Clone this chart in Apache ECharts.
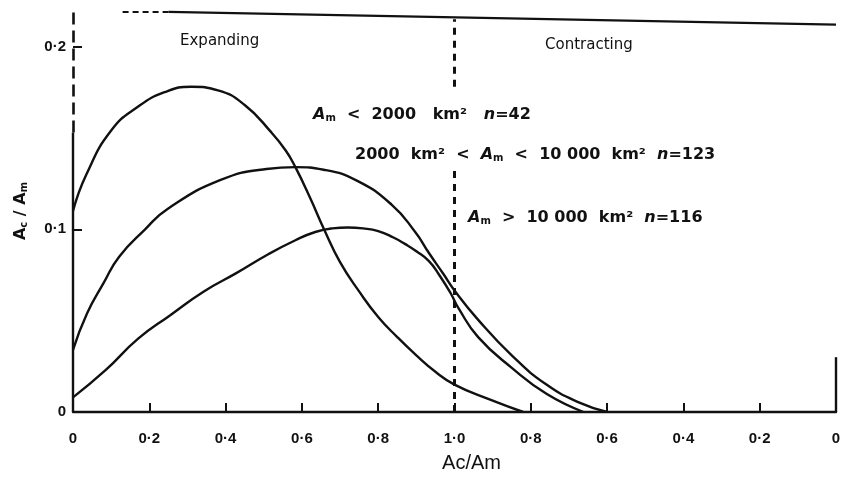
<!DOCTYPE html>
<html>
<head>
<meta charset="utf-8">
<script src="https://cdn.jsdelivr.net/npm/echarts@6.0.0/dist/echarts.min.js"></script>
<style>
html, body { margin: 0; background: #fff; }
#chart { width: 844px; height: 478px; }
</style>
</head>
<body>
<div id="chart"></div>
<script>
// x 轴：0 → 1 为扩张段，1 → 0 为收缩段（内部用 0..2 表示）
const xTicks = [0, 0.2, 0.4, 0.6, 0.8, 1, 1.2, 1.4, 1.6, 1.8, 2]
const yTickLabels = [0, 0.1, 0.2]

// Am < 2000 km², n = 42
const smallX = [0, 0.035, 0.10, 0.17, 0.24, 0.31, 0.38, 0.45, 0.52, 0.558, 0.583, 0.622, 0.658, 0.70, 0.75, 0.80, 0.85, 0.90, 0.95, 1.0, 1.09, 1.18]
const smallY = [0.110, 0.130, 0.154, 0.167, 0.175, 0.178, 0.176, 0.168, 0.153, 0.143, 0.134, 0.117, 0.100, 0.082, 0.066, 0.052, 0.041, 0.031, 0.022, 0.015, 0.007, 0.0]

// 2000 km² < Am < 10 000 km², n = 123
const midX = [0, 0.037, 0.080, 0.121, 0.189, 0.247, 0.387, 0.507, 0.583, 0.657, 0.744, 0.835, 0.897, 0.933, 0.971, 1.0, 1.061, 1.15, 1.241, 1.329, 1.40]
const midY = [0.034, 0.054, 0.0705, 0.085, 0.100, 0.111, 0.127, 0.133, 0.134, 0.1326, 0.1266, 0.1135, 0.0985, 0.087, 0.0755, 0.0665, 0.0507, 0.031, 0.015, 0.005, 0.0]

// Am > 10 000 km², n = 116
const largeX = [0, 0.086, 0.170, 0.255, 0.343, 0.428, 0.513, 0.583, 0.635, 0.68, 0.72, 0.76, 0.80, 0.84, 0.87, 0.90, 0.933, 0.96, 0.99, 1.01, 1.062, 1.151, 1.242, 1.338]
const largeY = [0.008, 0.023, 0.040, 0.053, 0.066, 0.076, 0.0865, 0.094, 0.0985, 0.1005, 0.101, 0.1005, 0.099, 0.0955, 0.092, 0.088, 0.0826, 0.075, 0.065, 0.057, 0.041, 0.024, 0.0098, 0.0]

const zip = (xs, ys) => xs.map((x, i) => [x, ys[i]])
const dot = v => String(v).replace('.', '·')

const ink = '#111'
const font = '"Liberation Sans", "DejaVu Sans", sans-serif'
const noteFont = '"DejaVu Sans", sans-serif'

const chart = echarts.init(document.getElementById('chart'))

const curve = (name, data) => ({
  name,
  type: 'line',
  data,
  smooth: 0.5,
  showSymbol: false,
  silent: true,
  lineStyle: { color: ink, width: 2.4 }
})

const rich = {
  i: { fontFamily: noteFont, fontSize: 16, fontWeight: 'bold', fontStyle: 'italic', color: ink },
  s: { fontFamily: noteFont, fontSize: 10, fontWeight: 'bold', color: ink, padding: [7, 0, 0, 0] },
  t: { fontFamily: noteFont, fontSize: 16, fontWeight: 'bold', color: ink }
}

const note = (x, y, text) => ({
  type: 'text',
  x, y,
  style: { text, rich, verticalAlign: 'middle', fill: ink }
})

const dashed = { color: ink, width: 3, type: [7, 6] }

const option = {
  animation: false,
  grid: { left: 73, right: 8, top: 10, bottom: 63 },
  xAxis: {
    type: 'value',
    min: 0,
    max: 2,
    interval: 0.2,
    name: 'Ac/Am',
    nameLocation: 'middle',
    nameGap: 41,
    nameTextStyle: { fontFamily: font, fontSize: 20, color: ink, padding: [0, 0, 0, 34] },
    axisLine: { lineStyle: { color: ink, width: 2.4 } },
    axisTick: {
      inside: true,
      length: 9,
      lineStyle: { color: ink, width: 2 },
      customValues: xTicks.slice(1, -1)
    },
    axisLabel: {
      margin: 19,
      fontFamily: font,
      fontSize: 15,
      fontWeight: 'bold',
      color: ink,
      customValues: xTicks,
      formatter: v => {
        const t = v <= 1 ? v : 2 - v
        return Math.abs(t) < 1e-6 ? '0' : t.toFixed(1).replace('.', '·')
      }
    },
    splitLine: { show: false }
  },
  yAxis: {
    type: 'value',
    min: 0,
    max: 0.22,
    name: '{t|A}{s|c}{t| / }{t|A}{s|m}',
    nameLocation: 'middle',
    nameGap: 44,
    nameRotate: 90,
    nameTextStyle: { rich },
    axisLine: { show: false },
    axisTick: {
      show: true,
      inside: true,
      length: 9,
      lineStyle: { color: ink, width: 2 },
      customValues: [0.1, 0.2]
    },
    axisLabel: {
      margin: 7,
      fontFamily: font,
      fontSize: 15,
      fontWeight: 'bold',
      color: ink,
      customValues: yTickLabels,
      formatter: v => (v === 0 ? '0' : dot(v.toFixed(1)))
    },
    splitLine: { show: false }
  },
  series: [
    {
      ...curve('Am < 2000 km²', zip(smallX, smallY)),
      markLine: {
        silent: true,
        symbol: 'none',
        label: { show: false },
        emphasis: { disabled: true },
        data: [
          // 左侧纵轴：下段实线，上段虚线
          [{ coord: [0, 0], lineStyle: { color: ink, width: 2.4, type: 'solid' } }, { coord: [0, 0.153] }],
          [{ coord: [0, 0.153], lineStyle: { color: ink, width: 2.6, type: [12, 6] } }, { coord: [0, 0.219] }],
          // Ac/Am = 1 分界线（文字处断开）
          [{ coord: [1, 0], lineStyle: dashed }, { coord: [1, 0.134] }],
          [{ coord: [1, 0.178], lineStyle: dashed }, { coord: [1, 0.215] }],
          // 顶部边框
          [{ coord: [0.13, 0.219], lineStyle: { color: ink, width: 2, type: [6, 4] } }, { coord: [0.25, 0.219] }],
          [{ coord: [0.25, 0.219], lineStyle: { color: ink, width: 2.2, type: 'solid' } }, { coord: [2, 0.212] }],
          // 右侧边框
          [{ coord: [2, 0], lineStyle: { color: ink, width: 2.4, type: 'solid' } }, { coord: [2, 0.03] }]
        ]
      }
    },
    curve('2000 km² < Am < 10 000 km²', zip(midX, midY)),
    curve('Am > 10 000 km²', zip(largeX, largeY))
  ],
  graphic: [
    {
      type: 'text', x: 180, y: 41,
      style: { text: 'Expanding', font: '15px ' + noteFont, fill: ink, verticalAlign: 'middle' }
    },
    {
      type: 'text', x: 545, y: 45,
      style: { text: 'Contracting', font: '15px ' + noteFont, fill: ink, verticalAlign: 'middle' }
    },
    note(313, 115, '{i|A}{s|m}{t|  <  2000   km²   }{i|n}{t|=42}'),
    note(355, 155, '{t|2000  km²  <  }{i|A}{s|m}{t|  <  10 000  km²  }{i|n}{t|=123}'),
    note(468, 218, '{i|A}{s|m}{t|  >  10 000  km²  }{i|n}{t|=116}')
  ]
}

chart.setOption(option)
</script>
</body>
</html>
